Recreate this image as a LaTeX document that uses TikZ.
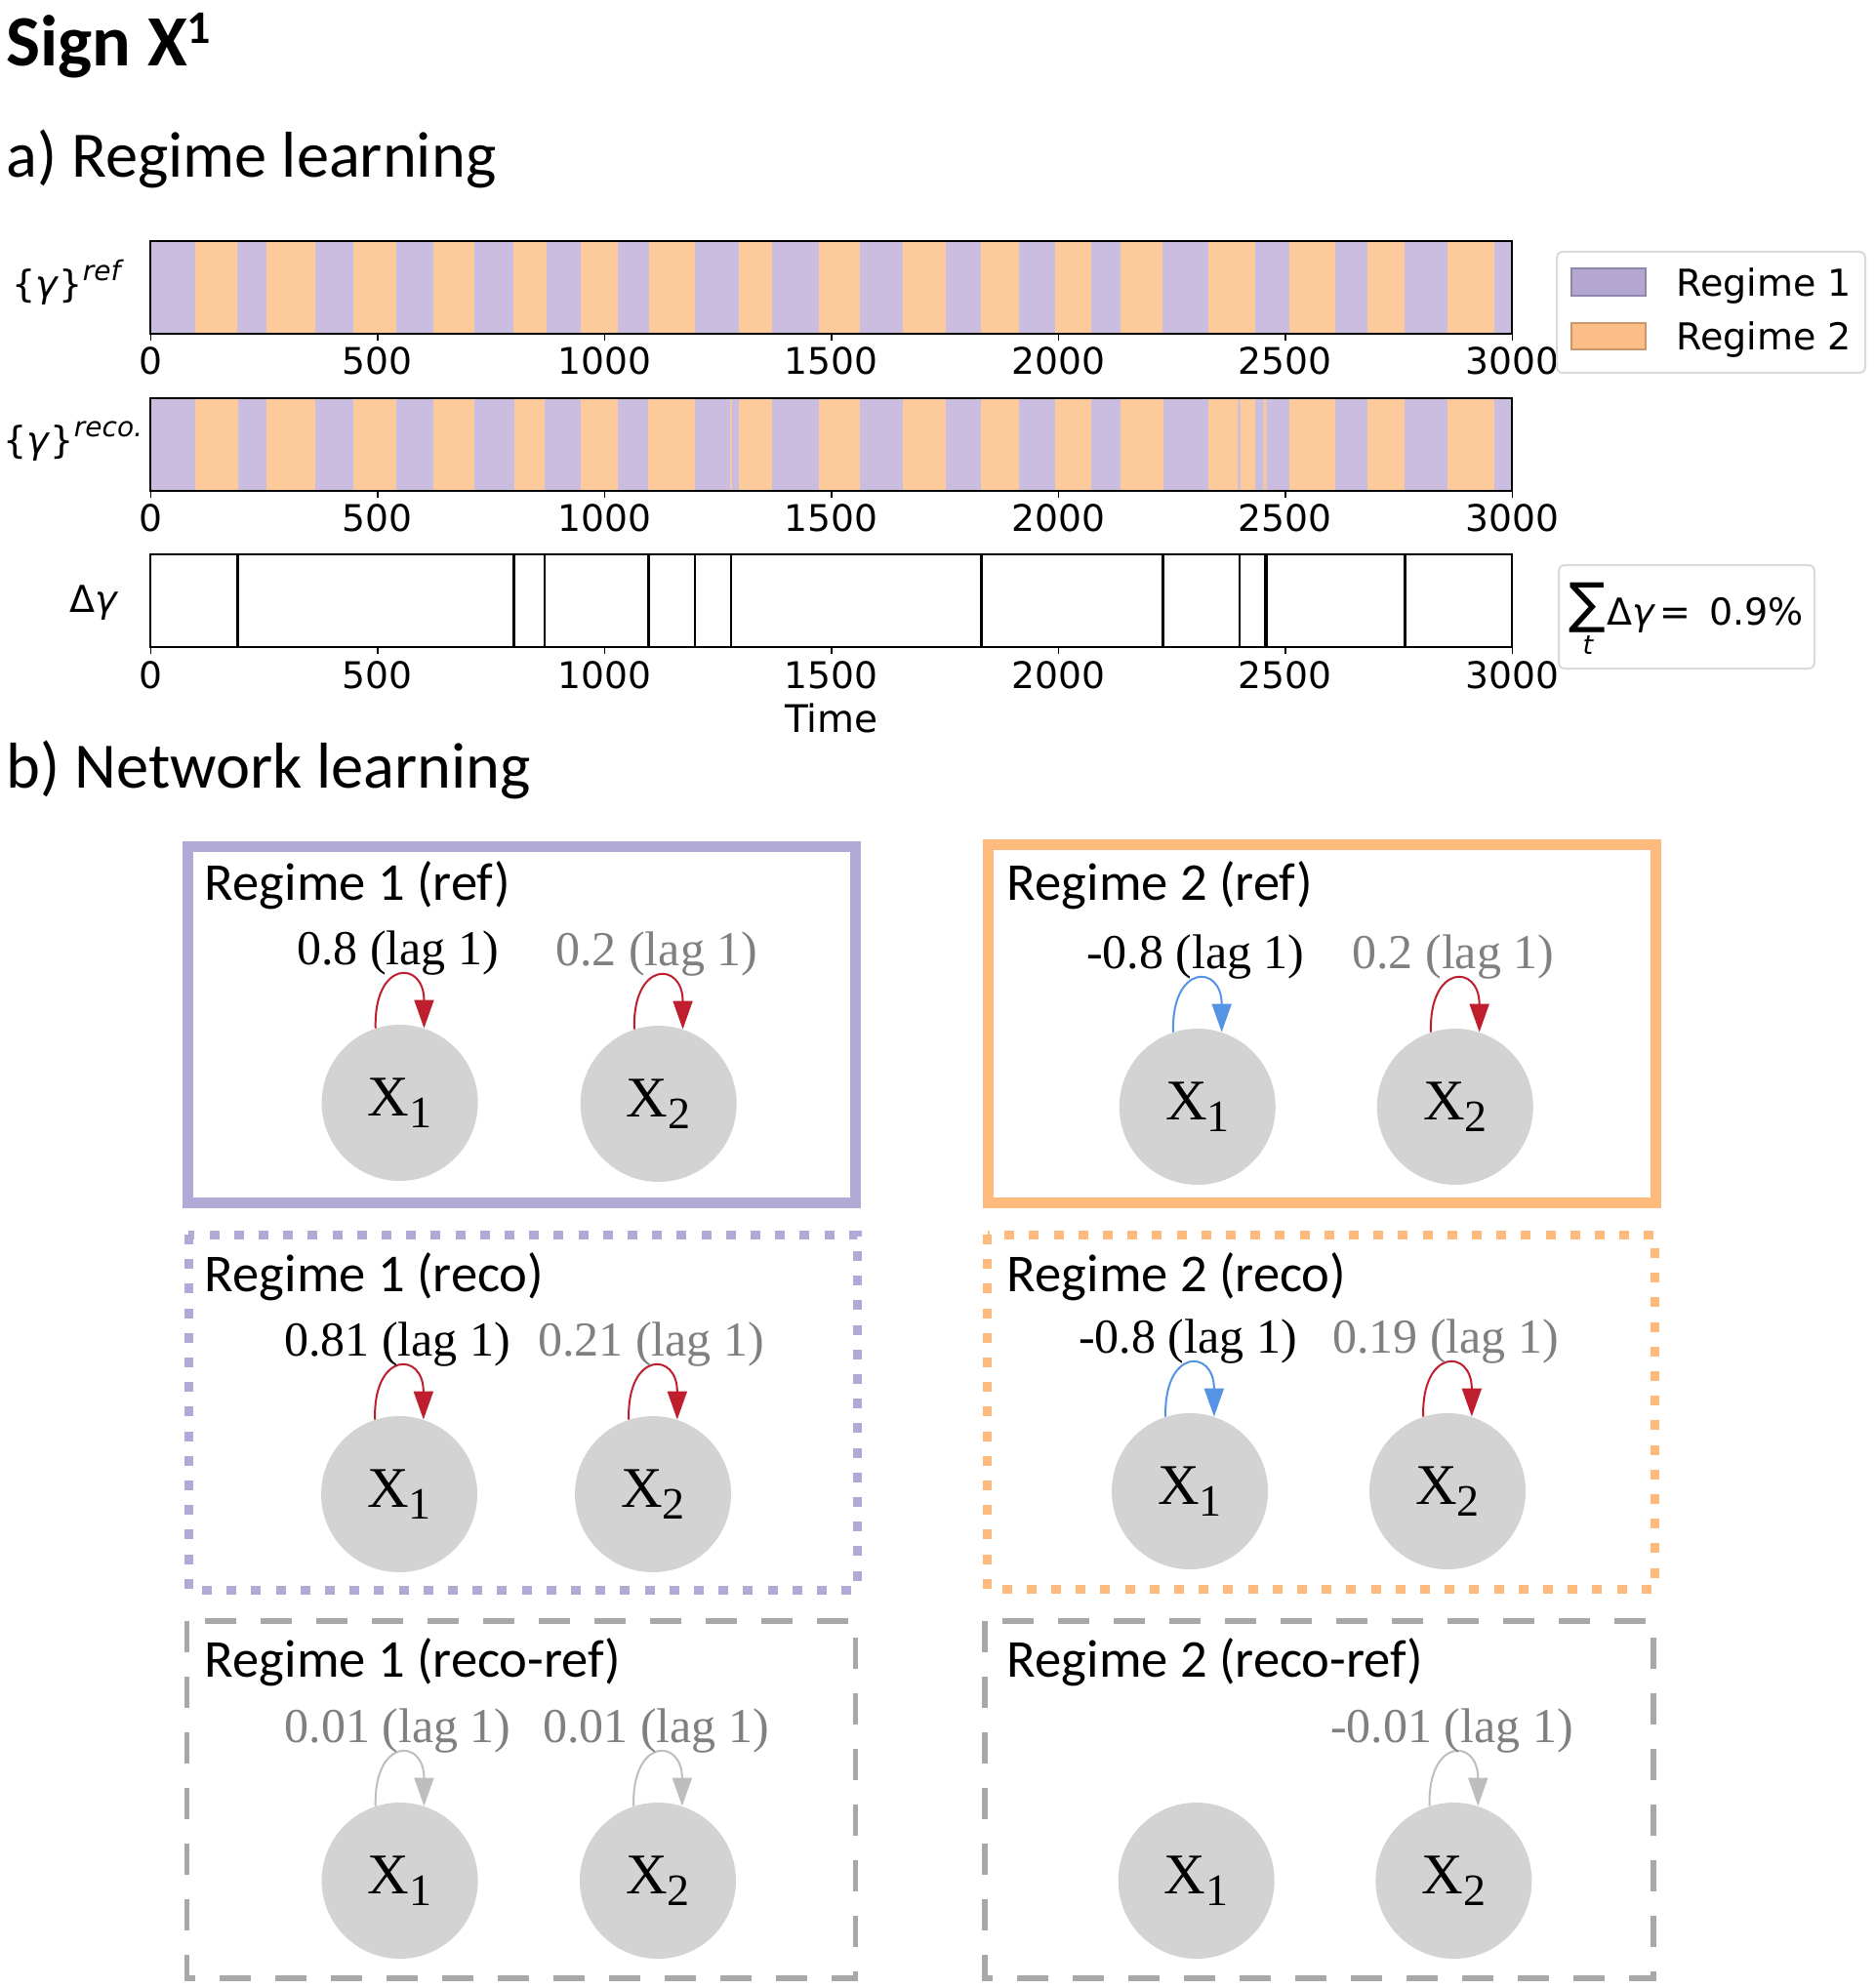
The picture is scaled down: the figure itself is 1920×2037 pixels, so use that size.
\documentclass[tikz,border=0pt]{standalone}
\usepackage{fontspec}
\setmainfont{Carlito}
\newfontfamily\dvs{DejaVu Sans}
\newfontfamily\tnr{Liberation Serif}
\usetikzlibrary{arrows.meta,calc}
\definecolor{barP}{HTML}{CABDDF}
\definecolor{barO}{HTML}{FDCA9C}
\definecolor{legP}{HTML}{B4A8D3}
\definecolor{legO}{HTML}{FDBD86}
\definecolor{boxP}{HTML}{B1AAD6}
\definecolor{boxO}{HTML}{FDBA7C}
\definecolor{boxG}{HTML}{A8A8A8}
\definecolor{nodeG}{HTML}{D3D3D3}
\definecolor{loopR}{HTML}{BE1E2D}
\definecolor{loopB}{HTML}{5593E5}
\definecolor{loopG}{HTML}{BEBEBE}
\definecolor{labG}{HTML}{808080}
\definecolor{frameG}{HTML}{DADADA}
\newcommand\xsub[1]{{\fontsize{23pt}{23pt}\selectfont\raisebox{-6pt}{#1}}}
\begin{document}
\begin{tikzpicture}[x=0.5pt,y=-0.5pt,
  ticklab/.style={font=\dvs\fontsize{18.8pt}{20pt}\selectfont, anchor=base, inner sep=0},
  dvtext/.style={font=\dvs\fontsize{19pt}{21pt}\selectfont, anchor=base west, inner sep=0},
  heading/.style={font=\fontsize{33.2pt}{36pt}\selectfont, anchor=base west, inner sep=0},
  boxtitle/.style={font=\fontsize{27.3pt}{29pt}\selectfont, anchor=base west, inner sep=0},
  glab/.style={font=\tnr\fontsize{25pt}{27pt}\selectfont, anchor=base, inner sep=0},
  var/.style={circle, fill=nodeG, minimum size=80pt, inner sep=0, font=\tnr\fontsize{29.5pt}{31pt}\selectfont},
  selfloop/.style={line width=1pt, -{Triangle[length=14.5pt,width=10pt]}},
  solidbox/.style={line width=5.5pt},
  dotbox/.style={line width=4.5pt, dash pattern=on 5pt off 7.6pt},
  dashbox/.style={line width=2.75pt, dash pattern=on 16pt off 12.5pt},
  barframe/.style={draw=black, line width=1pt},
  tickmark/.style={line width=0.8pt}
]
\useasboundingbox (0,0) rectangle (1920,2037);
\fill[white] (0,0) rectangle (1920,2037);

% headings
\node[heading, font=\bfseries\fontsize{37pt}{39pt}\selectfont] (title) at (6,68) {Sign X\raisebox{11.5pt}{\fontsize{24pt}{24pt}\selectfont 1}};
\node[heading] (ha) at (6,182) {a) Regime learning};
\node[heading] (hb) at (6,807) {b) Network learning};

% bars (data coordinates in x)
\begin{scope}[shift={(154.3,0)}, x=0.2325pt]
  % ref bar
  \fill[barP] (0,247.3) rectangle (3000,342.3);
  \foreach \a/\b in {99/191,255/362,447/541,622/713,799/873,948/1029,1099/1199,1297/1370,1472/1563,1658/1753,1829/1913,1992/2073,2138/2230,2330/2434,2510/2610,2680/2762,2857/2961}
    \fill[barO] (\a,247.3) rectangle (\b,342.3);
  \draw[barframe] (0,247.3) rectangle (3000,342.3);
  % reco bar
  \fill[barP] (0,408.3) rectangle (3000,502.7);
  \foreach \a/\b in {99/193,255/362,447/541,622/713,801/869,948/1029,1097/1199,1297/1370,1472/1563,1658/1753,1830/1913,1992/2073,2138/2231,2330/2434,2510/2610,2680/2763,2857/2961}
    \fill[barO] (\a,408.3) rectangle (\b,502.7);
  \fill[barO!85!barP] (1277,408.3) rectangle (1282,502.7);
  \fill[barP!80!barO] (2396,408.3) rectangle (2401,502.7);
  \fill[barO!70!barP] (2452,408.3) rectangle (2459,502.7);
  \draw[barframe] (0,408.3) rectangle (3000,502.7);
  % delta bar
  \foreach \t in {192,800,868,1097,1199,1279,1830,2231,2399}
    \draw[line width=1.25pt] (\t,568.3) -- (\t,663.3);
  \draw[line width=2pt] (2457,568.3) -- (2457,663.3);
  \draw[line width=1.5pt] (2763,568.3) -- (2763,663.3);
  \draw[barframe] (0,568.3) rectangle (3000,663.3);
  % ticks and tick labels
  \foreach \yb/\yl in {342.3/384, 502.7/545, 663.3/705}{
    \foreach \t in {0,500,1000,1500,2000,2500,3000}{
      \draw[tickmark] (\t,\yb) -- (\t,\yb+7);
      \node[ticklab] at (\t,\yl) {\t};
    }
  }
  \node[ticklab, font=\dvs\fontsize{19.5pt}{21pt}\selectfont] (time) at (1500,750) {Time};
\end{scope}

% left axis labels
\node[dvtext] (gref) at (12,305) {\{\textit{γ}\}\raisebox{8.5pt}{\fontsize{14pt}{15pt}\selectfont\itshape ref}};
\node[dvtext] (greco) at (3,465) {\{\textit{γ}\}\raisebox{8.5pt}{\fontsize{14pt}{15pt}\selectfont\itshape reco.}};
\node[dvtext] (dg) at (71,627) {Δ\textit{γ}};

% legend
\draw[draw=frameG, fill=white, line width=1pt, rounded corners=3pt] (1595,258) rectangle (1911,382);
\filldraw[fill=legP, draw=legP!80!black, line width=0.6pt] (1610,275) rectangle (1686,303);
\filldraw[fill=legO, draw=legO!80!black, line width=0.6pt] (1610,331) rectangle (1686,358);
\node[dvtext] (leg1) at (1717,303.3) {Regime 1};
\node[dvtext] (leg2) at (1717,358.3) {Regime 2};

% sum box
\draw[draw=frameG, fill=white, line width=1pt, rounded corners=3pt] (1597,579) rectangle (1859,685);
\node[dvtext, font=\dvs\fontsize{28pt}{28pt}\selectfont] (sig) at (1607,637) {∑};
\node[ticklab, font=\dvs\itshape\fontsize{13.5pt}{14pt}\selectfont] (sigt) at (1627,670) {t};
\node[dvtext] (sdg) at (1646,640) {Δ\textit{γ}};
\node[dvtext] (seq) at (1700,640) {=};
\node[dvtext] (sval) at (1751,640) {0.9\%};

% ===== network boxes =====
\draw[solidbox, boxP] (192.5,867) rectangle (876.5,1232.5);
\draw[solidbox, boxO] (1012.5,865) rectangle (1696.5,1232.5);
\draw[dotbox, boxP] (193,1265) rectangle (878,1629);
\draw[dotbox, boxO] (1011.5,1265) rectangle (1695.5,1628);
\draw[dashbox, boxG] (191.5,1661) rectangle (876.5,2027);
\draw[dashbox, boxG] (1009,1661) rectangle (1694,2027);

\node[boxtitle] (t1) at (209.5,922) {Regime 1 (ref)};
\node[boxtitle] (t2) at (1031.5,922) {Regime 2 (ref)};
\node[boxtitle] (t3) at (209.5,1323) {Regime 1 (reco)};
\node[boxtitle] (t4) at (1031.5,1323) {Regime 2 (reco)};
\node[boxtitle] (t5) at (209.5,1718) {Regime 1 (reco-ref)};
\node[boxtitle] (t6) at (1031.5,1718) {Regime 2 (reco-ref)};

% Regime 1 ref
\node[var] (a1) at (409.6,1130) {X\xsub{1}};
\node[var] (a2) at (674.7,1131) {X\xsub{2}};
\draw[selfloop, loopR] (a1.108) .. controls +(-2,-70) and +(0,-70) .. (a1.72);
\draw[selfloop, loopR] (a2.108) .. controls +(-2,-70) and +(0,-70) .. (a2.72);
\node[glab] (la1) at ($(a1)+(-2,-142)$) {0.8 (lag 1)};
\node[glab, labG] (la2) at ($(a2)+(-2,-142)$) {0.2 (lag 1)};

% Regime 2 ref
\node[var] (b1) at (1226.8,1134) {X\xsub{1}};
\node[var] (b2) at (1490.8,1134) {X\xsub{2}};
\draw[selfloop, loopB] (b1.108) .. controls +(-2,-70) and +(0,-70) .. (b1.72);
\draw[selfloop, loopR] (b2.108) .. controls +(-2,-70) and +(0,-70) .. (b2.72);
\node[glab] (lb1) at ($(b1)+(-2,-142)$) {-0.8 (lag 1)};
\node[glab, labG] (lb2) at ($(b2)+(-2,-142)$) {0.2 (lag 1)};

% Regime 1 reco
\node[var] (c1) at (409,1531) {X\xsub{1}};
\node[var] (c2) at (669,1531) {X\xsub{2}};
\draw[selfloop, loopR] (c1.108) .. controls +(-2,-70) and +(0,-70) .. (c1.72);
\draw[selfloop, loopR] (c2.108) .. controls +(-2,-70) and +(0,-70) .. (c2.72);
\node[glab] (lc1) at ($(c1)+(-2,-142)$) {0.81 (lag 1)};
\node[glab, labG] (lc2) at ($(c2)+(-2,-142)$) {0.21 (lag 1)};

% Regime 2 reco
\node[var] (d1) at (1219,1528) {X\xsub{1}};
\node[var] (d2) at (1483,1528) {X\xsub{2}};
\draw[selfloop, loopB] (d1.108) .. controls +(-2,-70) and +(0,-70) .. (d1.72);
\draw[selfloop, loopR] (d2.108) .. controls +(-2,-70) and +(0,-70) .. (d2.72);
\node[glab] (ld1) at ($(d1)+(-2,-142)$) {-0.8 (lag 1)};
\node[glab, labG] (ld2) at ($(d2)+(-2,-142)$) {0.19 (lag 1)};

% Regime 1 reco-ref
\node[var] (e1) at (409.6,1927) {X\xsub{1}};
\node[var] (e2) at (674,1927) {X\xsub{2}};
\draw[selfloop, loopG] (e1.108) .. controls +(-2,-70) and +(0,-70) .. (e1.72);
\draw[selfloop, loopG] (e2.108) .. controls +(-2,-70) and +(0,-70) .. (e2.72);
\node[glab, labG] (le1) at ($(e1)+(-2,-142)$) {0.01 (lag 1)};
\node[glab, labG] (le2) at ($(e2)+(-2,-142)$) {0.01 (lag 1)};

% Regime 2 reco-ref
\node[var] (f1) at (1225.7,1927) {X\xsub{1}};
\node[var] (f2) at (1489.4,1927) {X\xsub{2}};
\draw[selfloop, loopG] (f2.108) .. controls +(-2,-70) and +(0,-70) .. (f2.72);
\node[glab, labG] (lf2) at ($(f2)+(-2,-142)$) {-0.01 (lag 1)};
\end{tikzpicture}
\end{document}
